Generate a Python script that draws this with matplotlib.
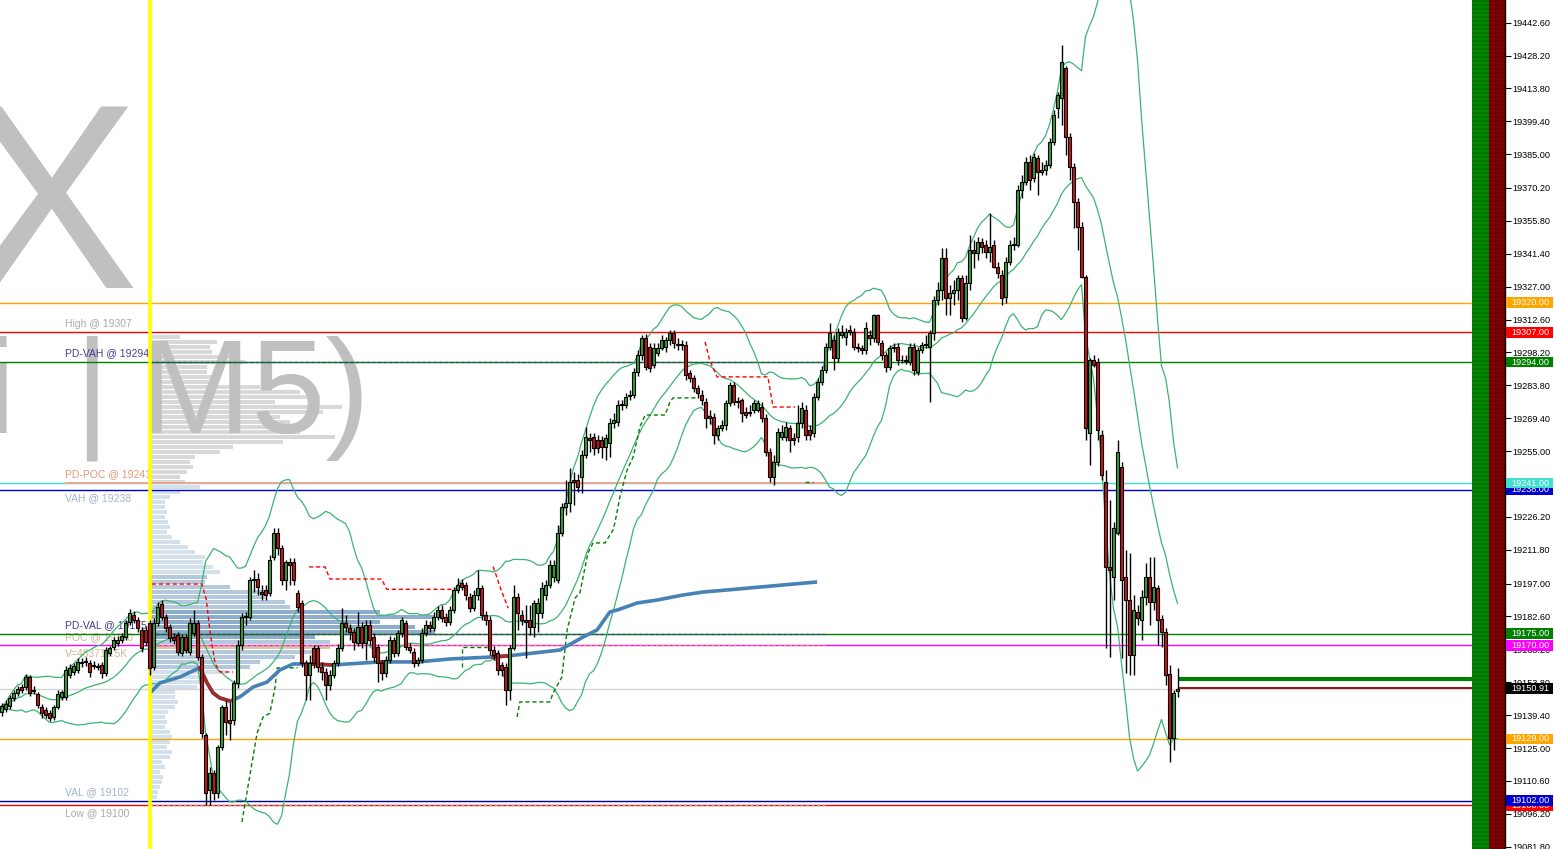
import numpy as np
import pandas as pd
import matplotlib
matplotlib.use('Agg')
import matplotlib.pyplot as plt
from matplotlib.patches import Rectangle

plt.rcParams['font.family'] = ['Liberation Sans', 'DejaVu Sans']

# M5 candles (price)
opens = [19140.8, 19142.1, 19143.4, 19146.9, 19149.1, 19151.7, 19151.7, 19156.1, 19150.0, 19148.7,
         19143.0, 19141.7, 19140.4, 19138.6, 19143.0, 19147.4, 19147.4, 19157.0, 19158.3, 19159.2,
         19162.3, 19162.7, 19162.3, 19160.9, 19160.5, 19161.4, 19157.9, 19166.6, 19169.2, 19171.0,
         19172.3, 19173.6, 19180.2, 19183.3, 19181.1, 19176.7, 19176.7, 19179.8, 19160.5, 19179.8,
         19188.0, 19182.4, 19178.0, 19173.6, 19174.5, 19166.6, 19173.6, 19167.1, 19175.4, 19179.8,
         19164.9, 19130.7, 19106.6, 19114.1, 19105.3, 19125.5, 19143.0, 19137.3, 19137.3, 19153.5,
         19170.1, 19182.4, 19182.4, 19198.6, 19199.0, 19193.3, 19194.2, 19192.9, 19208.6, 19219.2,
         19212.6, 19198.6, 19206.5, 19206.5, 19192.9, 19188.5, 19162.3, 19157.0, 19168.8, 19168.8,
         19160.5, 19158.3, 19152.6, 19157.0, 19162.3, 19168.8, 19179.8, 19177.6, 19175.8, 19171.0,
         19178.0, 19171.0, 19178.9, 19173.6, 19169.2, 19162.3, 19157.9, 19163.6, 19172.3, 19166.6,
         19175.4, 19179.8, 19169.2, 19167.1, 19162.3, 19163.6, 19175.4, 19178.9, 19177.6, 19182.4,
         19185.4, 19182.4, 19180.2, 19185.4, 19194.2, 19197.3, 19196.4, 19191.1, 19186.3, 19192.0,
         19195.1, 19183.3, 19181.1, 19167.9, 19166.6, 19161.4, 19160.5, 19150.4, 19168.8, 19191.1,
         19183.3, 19181.1, 19181.1, 19178.0, 19184.1, 19184.1, 19192.0, 19196.4, 19199.9, 19198.6,
         19219.2, 19230.5, 19232.3, 19242.4, 19242.4, 19243.7, 19253.3, 19260.8, 19261.2, 19259.9,
         19259.9, 19256.8, 19258.6, 19267.3, 19267.7, 19275.2, 19275.2, 19279.1, 19279.6, 19289.6,
         19297.1, 19304.5, 19300.6, 19292.7, 19298.0, 19300.1, 19300.6, 19303.7, 19306.7, 19301.9,
         19301.9, 19301.5, 19289.2, 19287.0, 19282.6, 19279.6, 19276.5, 19270.4, 19269.9, 19262.1,
         19265.1, 19266.4, 19276.1, 19283.9, 19276.5, 19277.4, 19272.1, 19272.1, 19273.0, 19273.0,
         19274.3, 19269.5, 19254.6, 19243.7, 19250.2, 19261.2, 19261.2, 19265.1, 19260.8, 19261.2,
         19267.3, 19273.0, 19264.3, 19262.9, 19278.7, 19285.3, 19290.5, 19300.6, 19303.7, 19295.8,
         19305.8, 19305.0, 19308.0, 19307.1, 19300.6, 19300.1, 19299.3, 19305.8, 19304.5, 19314.6,
         19302.3, 19297.1, 19291.8, 19300.1, 19300.6, 19294.9, 19294.9, 19294.0, 19300.6, 19289.6,
         19299.3, 19301.5, 19300.6, 19306.7, 19321.2, 19325.5, 19339.5, 19322.0, 19324.2, 19325.5,
         19330.8, 19313.3, 19328.6, 19343.0, 19341.7, 19346.6, 19345.2, 19342.2, 19345.2, 19335.6,
         19332.1, 19322.5, 19337.8, 19345.2, 19345.2, 19369.3, 19372.8, 19381.6, 19374.6, 19383.3,
         19377.2, 19378.1, 19380.3, 19390.3, 19405.2, 19409.6, 19422.7, 19392.5, 19379.4, 19364.1,
         19353.1, 19331.2, 19262.9, 19294.9, 19294.0, 19262.1, 19241.5, 19204.3, 19199.9, 19219.2,
         19248.0, 19199.9, 19189.8, 19165.8, 19184.6, 19181.1, 19191.1, 19199.9, 19188.9, 19195.1,
         19181.5, 19175.8, 19157.4, 19129.4, 19150.0]
highs = [19144.7, 19146.0, 19148.2, 19150.4, 19152.2, 19153.0, 19157.4, 19157.0, 19152.2, 19149.6,
         19144.3, 19143.0, 19141.7, 19143.9, 19150.4, 19150.4, 19160.9, 19161.8, 19162.3, 19164.5,
         19164.5, 19164.9, 19163.6, 19163.2, 19162.3, 19162.7, 19169.2, 19169.7, 19173.6, 19174.1,
         19175.4, 19181.1, 19185.9, 19185.0, 19182.4, 19178.0, 19178.4, 19181.1, 19181.9, 19189.0,
         19189.8, 19183.7, 19179.3, 19175.4, 19175.8, 19174.9, 19174.9, 19181.9, 19185.4, 19181.1,
         19166.2, 19131.6, 19116.7, 19115.4, 19126.3, 19143.9, 19146.0, 19145.2, 19154.8, 19172.3,
         19184.1, 19184.6, 19199.9, 19203.0, 19201.6, 19196.4, 19196.4, 19209.5, 19221.3, 19221.3,
         19213.9, 19207.3, 19208.2, 19208.2, 19194.2, 19189.8, 19163.6, 19165.8, 19170.1, 19170.1,
         19162.7, 19160.1, 19159.2, 19163.6, 19170.5, 19186.3, 19183.3, 19179.3, 19177.6, 19184.6,
         19180.2, 19181.1, 19181.1, 19175.4, 19170.5, 19163.6, 19165.3, 19174.1, 19173.6, 19176.7,
         19182.4, 19181.1, 19171.0, 19168.8, 19164.9, 19177.6, 19181.1, 19180.6, 19184.6, 19187.2,
         19187.6, 19184.1, 19187.2, 19195.5, 19199.5, 19199.0, 19197.7, 19192.9, 19194.2, 19203.0,
         19196.4, 19185.0, 19182.8, 19169.7, 19167.9, 19162.7, 19162.3, 19170.1, 19196.4, 19192.9,
         19185.4, 19187.6, 19187.6, 19189.8, 19190.7, 19197.7, 19198.6, 19207.3, 19207.3, 19222.7,
         19232.3, 19242.4, 19247.6, 19245.9, 19245.0, 19255.5, 19265.6, 19262.9, 19262.9, 19262.1,
         19261.6, 19262.5, 19269.5, 19271.7, 19277.4, 19277.4, 19280.4, 19281.8, 19291.4, 19299.3,
         19305.8, 19306.3, 19302.3, 19302.3, 19302.3, 19305.8, 19305.0, 19308.0, 19308.0, 19304.5,
         19303.7, 19303.2, 19290.5, 19288.3, 19283.9, 19281.8, 19278.3, 19273.0, 19271.7, 19266.4,
         19268.6, 19277.4, 19285.3, 19285.3, 19278.7, 19278.3, 19274.3, 19275.2, 19277.4, 19277.4,
         19276.5, 19271.2, 19256.4, 19253.3, 19265.1, 19266.4, 19267.7, 19266.4, 19262.9, 19275.2,
         19276.5, 19275.2, 19266.4, 19280.4, 19287.0, 19292.3, 19302.3, 19311.1, 19305.8, 19308.9,
         19310.2, 19308.9, 19310.2, 19308.9, 19302.3, 19301.5, 19311.5, 19308.0, 19315.0, 19315.0,
         19303.7, 19298.4, 19301.5, 19302.3, 19302.3, 19297.1, 19297.1, 19302.3, 19302.3, 19300.6,
         19302.8, 19305.8, 19308.0, 19322.9, 19329.0, 19343.9, 19343.9, 19327.7, 19329.9, 19332.1,
         19332.1, 19332.1, 19349.6, 19347.4, 19348.7, 19348.3, 19347.4, 19359.3, 19347.4, 19337.8,
         19334.3, 19340.0, 19347.4, 19348.7, 19371.5, 19375.9, 19383.8, 19384.6, 19385.5, 19384.6,
         19381.6, 19382.5, 19392.1, 19404.3, 19412.2, 19432.8, 19423.6, 19394.3, 19381.1, 19365.8,
         19355.3, 19332.1, 19295.8, 19297.1, 19295.8, 19264.3, 19246.7, 19233.6, 19224.0, 19259.9,
         19250.2, 19211.7, 19210.4, 19192.0, 19187.6, 19194.2, 19206.0, 19208.6, 19208.6, 19196.4,
         19183.3, 19177.6, 19161.4, 19150.4, 19160.1]
lows = [19139.1, 19140.8, 19142.1, 19145.6, 19147.8, 19149.1, 19150.4, 19147.8, 19148.7, 19142.5,
        19138.2, 19138.2, 19136.9, 19137.3, 19142.1, 19146.0, 19146.0, 19155.7, 19157.0, 19157.9,
        19160.5, 19160.9, 19156.1, 19159.6, 19159.2, 19155.7, 19156.5, 19165.3, 19167.9, 19169.7,
        19171.0, 19172.3, 19178.9, 19179.8, 19175.8, 19167.1, 19169.7, 19157.0, 19159.2, 19178.4,
        19181.1, 19175.8, 19171.4, 19170.5, 19165.8, 19165.3, 19166.6, 19165.8, 19174.1, 19163.6,
        19129.4, 19100.1, 19100.1, 19102.3, 19103.1, 19124.2, 19130.7, 19128.5, 19135.1, 19151.3,
        19167.9, 19178.9, 19181.1, 19193.3, 19192.0, 19189.8, 19189.8, 19191.6, 19207.3, 19209.5,
        19196.4, 19194.2, 19196.4, 19196.4, 19184.6, 19160.5, 19146.0, 19146.0, 19160.1, 19158.3,
        19154.8, 19146.0, 19150.4, 19155.7, 19160.9, 19167.5, 19175.8, 19172.3, 19167.9, 19169.7,
        19168.8, 19163.6, 19170.1, 19162.7, 19153.9, 19154.8, 19156.1, 19162.3, 19164.9, 19165.3,
        19173.6, 19167.9, 19166.6, 19160.5, 19160.9, 19162.3, 19174.1, 19175.8, 19176.2, 19181.1,
        19180.2, 19178.4, 19178.9, 19184.1, 19192.9, 19194.2, 19189.8, 19184.6, 19185.0, 19189.8,
        19181.1, 19178.9, 19165.8, 19163.6, 19157.0, 19156.5, 19143.9, 19146.0, 19167.9, 19176.7,
        19178.9, 19164.4, 19174.5, 19173.6, 19175.8, 19181.9, 19189.8, 19195.1, 19197.7, 19197.3,
        19217.8, 19227.0, 19228.3, 19231.4, 19237.1, 19236.7, 19252.0, 19254.6, 19253.3, 19254.2,
        19252.0, 19251.1, 19252.4, 19265.1, 19266.0, 19273.0, 19273.9, 19277.4, 19278.3, 19287.9,
        19294.9, 19290.5, 19289.6, 19291.4, 19296.6, 19299.3, 19298.4, 19301.5, 19300.1, 19299.3,
        19299.3, 19286.1, 19285.3, 19280.9, 19278.3, 19275.2, 19265.1, 19266.9, 19258.1, 19259.9,
        19263.8, 19264.3, 19274.8, 19275.2, 19273.9, 19267.7, 19269.5, 19270.4, 19271.7, 19272.1,
        19267.7, 19252.9, 19241.5, 19240.2, 19248.5, 19259.9, 19259.4, 19254.6, 19257.7, 19259.0,
        19265.1, 19259.9, 19259.9, 19261.2, 19277.4, 19283.9, 19289.2, 19299.3, 19290.5, 19294.0,
        19304.5, 19301.5, 19305.8, 19299.3, 19298.4, 19297.5, 19297.5, 19301.5, 19302.8, 19301.5,
        19294.9, 19289.6, 19290.5, 19298.4, 19292.7, 19293.6, 19293.1, 19292.7, 19288.3, 19288.3,
        19298.0, 19300.1, 19276.5, 19303.7, 19319.0, 19321.2, 19314.6, 19314.6, 19319.0, 19321.2,
        19311.5, 19312.4, 19325.5, 19335.2, 19338.7, 19341.7, 19339.5, 19337.8, 19335.2, 19330.8,
        19319.0, 19319.8, 19336.5, 19343.0, 19344.4, 19365.8, 19371.5, 19369.3, 19372.8, 19367.1,
        19375.9, 19375.9, 19379.0, 19389.0, 19400.8, 19397.8, 19384.6, 19373.7, 19352.7, 19343.0,
        19330.8, 19259.9, 19248.9, 19291.8, 19259.9, 19242.4, 19168.8, 19164.9, 19189.8, 19218.3,
        19164.4, 19157.9, 19157.0, 19157.0, 19178.9, 19172.3, 19187.6, 19178.9, 19185.4, 19170.1,
        19169.2, 19152.6, 19118.9, 19124.2, 19147.4]
closes = [19143.4, 19144.3, 19146.9, 19149.1, 19150.9, 19150.4, 19156.1, 19149.1, 19150.4, 19143.9,
          19140.4, 19139.5, 19138.2, 19143.0, 19148.7, 19149.5, 19159.2, 19160.1, 19161.0, 19162.7,
          19162.7, 19163.2, 19158.3, 19161.4, 19160.9, 19157.9, 19167.9, 19168.8, 19172.3, 19172.3,
          19174.1, 19179.8, 19184.1, 19181.1, 19177.6, 19168.8, 19171.4, 19160.1, 19179.8, 19186.8,
          19182.4, 19177.6, 19173.2, 19172.3, 19167.1, 19173.6, 19167.9, 19179.8, 19179.8, 19164.9,
          19131.6, 19105.3, 19114.1, 19105.3, 19125.5, 19143.0, 19136.4, 19135.9, 19153.5, 19170.1,
          19182.4, 19182.6, 19198.6, 19199.0, 19195.5, 19192.4, 19192.0, 19207.3, 19219.2, 19212.6,
          19198.6, 19206.5, 19205.1, 19198.6, 19186.8, 19162.3, 19157.0, 19162.3, 19162.3, 19160.5,
          19158.3, 19152.6, 19157.0, 19162.3, 19168.8, 19179.8, 19178.0, 19175.8, 19171.4, 19178.0,
          19171.0, 19178.9, 19172.3, 19164.9, 19162.3, 19157.9, 19163.6, 19172.3, 19166.6, 19175.4,
          19181.1, 19169.2, 19167.9, 19162.3, 19163.6, 19175.4, 19178.9, 19177.6, 19182.4, 19185.4,
          19181.9, 19180.2, 19185.4, 19194.2, 19196.4, 19195.5, 19192.0, 19186.3, 19192.0, 19195.1,
          19183.3, 19181.1, 19167.9, 19165.8, 19159.2, 19159.2, 19150.4, 19168.8, 19191.1, 19184.1,
          19181.1, 19180.2, 19178.0, 19188.5, 19188.5, 19195.1, 19196.4, 19205.1, 19205.1, 19219.2,
          19230.5, 19232.3, 19241.5, 19241.5, 19239.3, 19253.3, 19261.2, 19259.9, 19256.4, 19256.4,
          19256.8, 19260.8, 19267.3, 19268.6, 19275.2, 19275.6, 19278.7, 19279.6, 19289.6, 19297.1,
          19304.5, 19291.8, 19291.4, 19300.1, 19300.1, 19303.7, 19303.7, 19306.7, 19302.3, 19301.5,
          19301.5, 19288.3, 19287.0, 19282.6, 19280.4, 19277.4, 19269.5, 19269.5, 19262.1, 19265.1,
          19266.4, 19276.1, 19283.9, 19276.5, 19277.0, 19271.7, 19270.8, 19271.9, 19276.1, 19276.1,
          19269.5, 19254.6, 19243.7, 19250.2, 19263.4, 19263.4, 19265.6, 19259.9, 19259.9, 19267.3,
          19273.9, 19262.1, 19262.1, 19278.7, 19285.3, 19290.5, 19300.6, 19306.7, 19295.8, 19307.1,
          19307.1, 19307.1, 19307.1, 19300.6, 19300.1, 19299.3, 19308.9, 19304.5, 19314.6, 19302.8,
          19297.1, 19291.8, 19300.1, 19300.6, 19294.9, 19294.7, 19294.5, 19300.6, 19290.5, 19299.3,
          19301.5, 19301.9, 19306.7, 19321.2, 19325.5, 19339.5, 19322.0, 19324.2, 19325.5, 19330.8,
          19313.3, 19328.6, 19343.0, 19341.7, 19346.6, 19344.4, 19342.2, 19344.4, 19335.6, 19333.0,
          19322.0, 19337.8, 19345.2, 19345.7, 19369.3, 19372.8, 19381.6, 19373.7, 19383.8, 19377.2,
          19378.1, 19380.3, 19390.3, 19402.2, 19410.9, 19425.4, 19392.5, 19379.4, 19364.1, 19353.1,
          19331.2, 19265.1, 19294.9, 19292.7, 19264.3, 19244.5, 19204.3, 19203.0, 19221.3, 19254.6,
          19198.6, 19189.8, 19165.8, 19185.4, 19181.9, 19191.1, 19199.9, 19188.9, 19195.5, 19181.1,
          19175.8, 19157.0, 19129.4, 19149.1, 19150.91]

# price scale ticks on the right
axis_ticks = [19442.6, 19428.2, 19413.8, 19399.4, 19385.0, 19370.2, 19355.8, 19341.4, 19327.0,
              19312.6, 19298.2, 19283.8, 19269.4, 19255.0, 19240.6, 19226.2, 19211.8, 19197.0,
              19182.6, 19168.2, 19153.8, 19139.4, 19125.0, 19110.6, 19096.2, 19081.8]

# horizontal levels
level_prices = [19320, 19307, 19294, 19241, 19238, 19175, 19170, 19150.91, 19129, 19102, 19100]
level_colors = ['#ffa500', '#ff0000', '#008000', '#40e0d0', '#0000cd', '#008000', '#ff00ff',
                '#d4d4d4', '#ffa500', '#00009c', '#ff0000']
box_prices = [19320, 19307, 19294, 19238, 19241, 19175, 19170, 19150.91, 19129, 19100, 19102]
box_colors = ['#ffa500', '#ff0000', '#008000', '#0000cd', '#40e0d0', '#008000', '#ff00ff',
              '#000000', '#ffa500', '#ff0000', '#0000cd']

left_labels = ['High @ 19307', 'PD-VAH @ 19294', 'PD-POC @ 19241', 'VAH @ 19238', 'PD-VAL @ 19175',
               'POC @ 19170', 'V=483717.5K', 'VAL @ 19102', 'Low @ 19100']
left_label_px = [19307, 19294, 19241, 19238, 19175, 19170, 19170, 19102, 19100]
left_label_col = ['#a9a9a9', '#483d8b', '#e9967a', '#a2b5cd', '#483d8b', '#d2b48c', '#d2b48c',
                  '#a2b5cd', '#a9a9a9']
left_label_up = [True, True, True, False, True, True, False, True, False]

# session volume profile, bottom level 19103.6, one bin every 2.19 points
profile_vol = [7, 8, 10, 12, 13, 10, 15, 12, 20, 22,
               17, 20, 22, 20, 15, 17, 15, 18, 25, 28,
               25, 25, 47, 50, 55, 77, 100, 110, 145, 170,
               180, 180, 165, 285, 265, 230, 285, 230, 140, 135,
               115, 120, 80, 55, 57, 70, 63, 53, 55, 45,
               38, 30, 22, 17, 20, 18, 15, 17, 15, 15,
               20, 30, 50, 35, 30, 37, 43, 40, 45, 70,
               83, 133, 185, 150, 130, 140, 130, 173, 192, 125,
               170, 150, 110, 62, 65, 57, 57, 95, 85, 62,
               60, 67, 30]

# VWAP
vwap_i = [37.1, 39.6, 44.6, 48.4, 49.6, 51.4, 52.9, 54.6, 57.1, 59.6, 62.9, 66.4, 69.6, 72.9,
          76.4, 82.9, 94.6, 95.4, 104.0, 112.1, 117.1, 122.9, 126.4, 139.6, 145.4, 148.9, 152.1,
          153.9, 158.9, 163.9, 170.4, 175.4, 181.4, 187.1, 195.4, 203.9]
vwap_p = [19149.1, 19153.5, 19156.1, 19159.2, 19160.1, 19153.5, 19149.1, 19146.9, 19145.6, 19147.4,
          19151.7, 19153.9, 19159.2, 19161.8, 19161.8, 19161.4, 19162.7, 19162.7, 19162.7, 19164.0,
          19164.4, 19164.9, 19165.3, 19167.9, 19173.6, 19176.7, 19184.6, 19185.4, 19188.5, 19189.8,
          19192.0, 19193.3, 19194.2, 19195.1, 19196.4, 19197.7]
vwap_red = [(49.6, 57.1), (76.4, 82.9), (94.6, 95.4), (122.9, 126.4)]

# trailing stop steps
red_steps = [
    [(37.6, 19196.8), (50.1, 19196.8), (51.2, 19190.0), (52.2, 19175.0), (53.4, 19162.0), (54.6, 19158.3), (57.9, 19158.3)],
    [(76.9, 19204.3), (80.9, 19204.3), (82.1, 19199.0), (95.0, 19199.0), (96.3, 19194.5), (112.9, 19194.5)],
    [(122.9, 19204.4), (123.8, 19200.0), (124.6, 19195.6), (126.7, 19186.2)],
    [(175.9, 19302.8), (177.0, 19295.0), (178.9, 19287.5), (191.6, 19287.5), (192.9, 19274.3), (198.4, 19274.3)],
]
green_steps = [
    [(60.1, 19092.6), (63.9, 19131.6), (65.4, 19138.6), (67.1, 19140.3), (68.4, 19151.7), (68.9, 19160.1), (74.0, 19160.1)],
    [(115.1, 19160.7), (115.1, 19169.2), (121.4, 19169.2)],
    [(128.9, 19138.6), (129.6, 19145.2), (137.1, 19145.2), (137.9, 19149.1), (140.1, 19156.1), (141.4, 19176.7),
     (143.4, 19190.7), (144.6, 19192.9), (146.6, 19210.4), (147.9, 19214.8), (150.9, 19214.8), (152.9, 19220.5),
     (153.4, 19224.0), (154.6, 19234.9), (156.4, 19246.7), (157.9, 19252.4), (158.9, 19259.9), (159.6, 19265.6),
     (160.9, 19270.8), (165.9, 19270.8), (167.1, 19276.5), (167.9, 19278.3), (173.9, 19278.3)],
    [(200.9, 19241.5), (202.9, 19241.5)],
]

o = np.array(opens); h = np.array(highs); l = np.array(lows); c = np.array(closes)
idx = np.arange(len(c))
ylo, yhi = 19080.8, 19452.5
xlo, xhi = -0.375, 375.875

fig = plt.figure(figsize=(15.54, 8.49), dpi=100)
ax = fig.add_axes([0, 0, 1505 / 1554, 1])
ax.set_facecolor('white')

# volume profile
lv = 19103.6 + 2.19 * np.arange(len(profile_vol))
pcol = []
for p in lv:
    if p > 19240.5:
        pcol.append('#d8d8d8')
    elif abs(p - 19170) < 1.2:
        pcol.append('#dcc6a4')
    elif 19172 <= p <= 19186:
        pcol.append('#8dadcd')
    elif 19160 <= p <= 19200:
        pcol.append('#b5c9de')
    else:
        pcol.append('#d4e0ec')
ax.barh(lv, np.array(profile_vol) / 4.0, left=37.1, height=1.7, color=pcol, zorder=1)

# watermark
wm = dict(color='#c0c0c0', transform=ax.transAxes, zorder=2, family='Liberation Sans')
ax.text(0.092, 1 - 288 / 849, 'X', ha='right', va='baseline', fontsize=190, **wm)
ax.text(0.2458, 1 - 433 / 849, 'M5)', ha='right', va='baseline', fontsize=96, **wm)
ax.text(0.0605, 1 - 433 / 849, '|', ha='center', va='baseline', fontsize=96, **wm)
ax.text(0.0095, 1 - 433 / 849, 'i', ha='right', va='baseline', fontsize=96, **wm)

# left labels
for txt, p, col, up in zip(left_labels, left_label_px, left_label_col, left_label_up):
    ax.annotate(txt, xy=(0.0432, p), xycoords=('axes fraction', 'data'),
                xytext=(0, 2.5 if up else -2.5), textcoords='offset points',
                va='bottom' if up else 'top', ha='left', fontsize=7.5, color=col, zorder=2.5)

# levels
for p, col in zip(level_prices, level_colors):
    ax.axhline(p, color=col, lw=1.0, zorder=3)
ax.hlines(19241, 15.9, 206, color='#f4a090', lw=1.3, zorder=3.1)
ax.hlines(19294, 37.1, 206, color='#483d8b', lw=1.0, ls=(0, (2, 2)), zorder=3.1)
ax.hlines(19175, 37.1, 206, color='#483d8b', lw=1.0, ls=(0, (2, 2)), zorder=3.1)
ax.hlines(19170, 37.1, 206, color='#d2a060', lw=1.0, ls=(0, (2, 2)), zorder=3.1)
ax.hlines(19100, 37.1, 206, color='#a0a0a0', lw=1.0, ls=(0, (2, 2)), zorder=3.1)
ax.hlines(19155.2, 294.25, 367.6, color='#008000', lw=3, zorder=3.2)
ax.hlines(19151.3, 294.25, 367.6, color='#8b0000', lw=1.3, zorder=3.2)

# Bollinger bands (20, 2)
s = pd.Series(c)
mid = s.rolling(20, min_periods=1).mean()
sd = s.rolling(20, min_periods=1).std(ddof=0)
for band in (mid, mid + 2 * sd, mid - 2 * sd):
    ax.plot(idx, band, color='#3cb371', lw=0.9, zorder=3.5)

# trailing stop dashes
for seg in red_steps:
    xs, ys = zip(*seg)
    ax.plot(xs, ys, color='#ff0000', lw=1.0, ls=(0, (3, 2)), zorder=3.5)
for seg in green_steps:
    xs, ys = zip(*seg)
    ax.plot(xs, ys, color='#008000', lw=1.0, ls=(0, (3, 2)), zorder=3.5)

# VWAP
vi = np.array(vwap_i); vp = np.array(vwap_p)
ax.plot(vi, vp, color='#4682b4', lw=2.6, zorder=3.6, solid_capstyle='butt')
for a, b in vwap_red:
    m = (vi >= a) & (vi <= b)
    ax.plot(vi[m], vp[m], color='#a52a2a', lw=2.6, zorder=3.7)

# session separator
ax.axvline(37.0, color='#ffff00', lw=2.6, zorder=4)

# candles
up = c >= o
ax.vlines(idx, l, h, color='black', lw=1.0, zorder=5)
body = np.maximum(np.abs(c - o), 0.35)
ax.bar(idx, body, bottom=np.minimum(o, c), width=0.72,
       color=np.where(up, '#35a035', '#cc1414'), edgecolor='black', linewidth=0.8, zorder=6)

# right strip
rows = 425
strip = np.zeros((rows, 2, 3))
strip[::2, 0] = (0.0, 0.45, 0.0)
strip[1::2, 0] = (0.0, 0.54, 0.0)
strip[::2, 1] = (0.42, 0.0, 0.0)
strip[1::2, 1] = (0.5, 0.0, 0.0)
ax.imshow(strip, extent=(367.6, xhi, ylo, yhi), aspect='auto', interpolation='nearest', zorder=8)

ax.set_xlim(xlo, xhi)
ax.set_ylim(ylo, yhi)
ax.set_xticks([])
for side in ('top', 'left', 'bottom'):
    ax.spines[side].set_visible(False)
ax.spines['right'].set_color('black')
ax.spines['right'].set_linewidth(1.0)
ax.spines['right'].set_zorder(9)
ax.yaxis.tick_right()
ax.set_yticks(axis_ticks)
ax.set_yticklabels(['%.2f' % t for t in axis_ticks])
ax.tick_params(axis='y', direction='out', length=4, width=0.8, pad=1.5, labelsize=6.6, colors='black')

# price boxes (later boxes sit on top of earlier ones)
tr = ax.get_yaxis_transform()
for k, (p, col) in enumerate(zip(box_prices, box_colors)):
    z = 10 + 2 * k
    ax.add_patch(Rectangle((1506 / 1505, p - 2.35), 47 / 1505, 4.7, transform=tr, fc=col, ec='none',
                           zorder=z, clip_on=False))
    ax.text(1511 / 1505, p, '%.2f' % p, transform=tr, ha='left', va='center', fontsize=6.6,
            color='white', zorder=z + 1, clip_on=False)

fig.savefig('out.png', dpi=100)
